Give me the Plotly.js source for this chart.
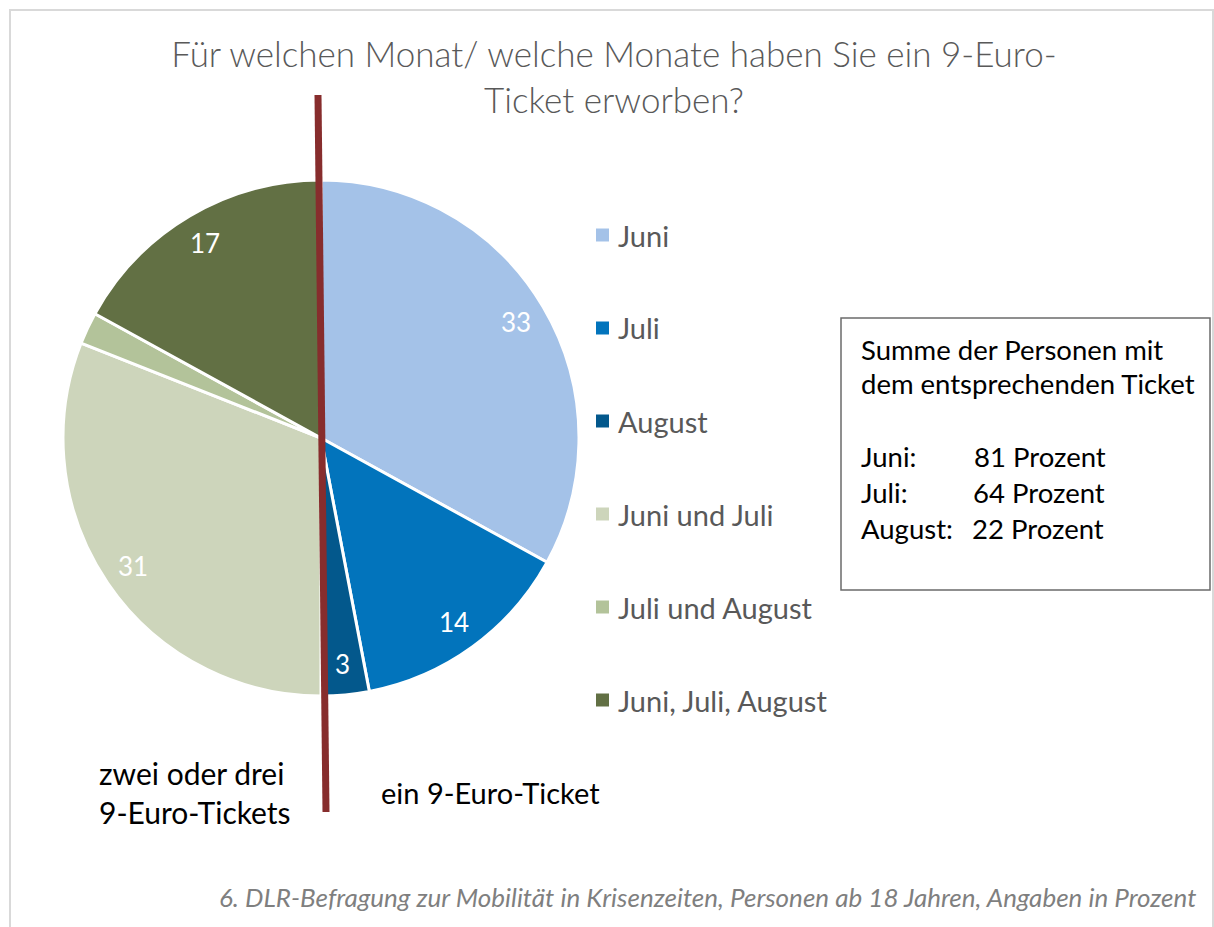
<!DOCTYPE html>
<html>
<head>
<meta charset="utf-8">
<script src="https://cdn.plot.ly/plotly-3.0.1.min.js"></script>
<style>html,body{margin:0;padding:0;background:#fff;}#chart{width:1214px;height:927px;}</style>
</head>
<body>
<div id="chart"></div>
<script>
// ---- data ----
const categories = ["Juni", "Juli", "August", "Juni und Juli", "Juli und August", "Juni, Juli, August"];
const values = [33, 14, 3, 31, 2, 17];
const showValue = [true, true, true, true, false, true];
const colors = ["#A4C2E8", "#0274BC", "#03588C", "#CDD5BB", "#B3C39A", "#627044"];
const sumMonths = ["Juni:", "Juli:", "August:"];
const sumValues = [81, 64, 22];
const titleText = "Für welchen Monat/ welche Monate haben Sie ein 9-Euro-<br>Ticket erworben?";
const boxTitle = ["Summe der Personen mit", "dem entsprechenden Ticket"];
const leftNote = "zwei oder drei<br>9-Euro-Tickets";
const rightNote = "ein 9-Euro-Ticket";
const sourceText = "6. DLR-Befragung zur Mobilität in Krisenzeiten, Personen ab 18 Jahren, Angaben in Prozent";

const W = 1214, H = 927;
const px = x => x / W;
const py = y => 1 - y / H;
const FONT = "Lato, 'Open Sans', sans-serif";

// pie geometry (pixels)
const CX = 321, CY = 438, R = 258;

const trace = {
  type: "pie",
  labels: categories,
  values: values,
  sort: false,
  direction: "clockwise",
  rotation: 0,
  marker: { colors: colors, line: { color: "#ffffff", width: 3 } },
  textinfo: "none",
  hoverinfo: "label+value",
  showlegend: false,
  domain: { x: [px(CX - R), px(CX + R)], y: [py(CY + R), py(CY - R)] }
};

const shapes = [];
const annotations = [];

// outer light border
shapes.push({ type: "rect", xref: "paper", yref: "paper", x0: px(10), x1: px(1213), y0: py(10), y1: py(930),
  line: { color: "#D9D9D9", width: 2 }, fillcolor: "rgba(0,0,0,0)", layer: "below" });

// value labels, placed like Excel's (outer part of each slice)
const total = values.reduce((a, b) => a + b, 0);
let cum = 0;
values.forEach((v, i) => {
  const mid = (cum + v / 2) / total * 2 * Math.PI;
  cum += v;
  if (!showValue[i]) return;
  const k = 0.88;
  const x = CX + R * k * Math.sin(mid);
  const y = CY - R * k * Math.cos(mid);
  annotations.push({ xref: "paper", yref: "paper", x: px(x), y: py(y), xanchor: "center", yanchor: "middle",
    text: String(v), showarrow: false, font: { family: FONT, size: 26, color: "#ffffff" } });
});

// legend (manual, spaced like the original)
const legY0 = 235, legStep = 93;
categories.forEach((c, i) => {
  const y = legY0 + i * legStep;
  shapes.push({ type: "rect", xref: "paper", yref: "paper",
    x0: px(596), x1: px(609), y0: py(y + 6.5), y1: py(y - 6.5),
    fillcolor: colors[i], line: { width: 0 } });
  annotations.push({ xref: "paper", yref: "paper", x: px(616), y: py(y), xanchor: "left", yanchor: "middle",
    text: c, showarrow: false, font: { family: FONT, size: 29, color: "#595959" } });
});

// summary box
shapes.push({ type: "rect", xref: "paper", yref: "paper", x0: px(841), x1: px(1210), y0: py(590), y1: py(318),
  line: { color: "#6b6b6b", width: 1.5 }, fillcolor: "#ffffff" });
boxTitle.forEach((t, i) => {
  annotations.push({ xref: "paper", yref: "paper", x: px(859), y: py(349 + i * 35), xanchor: "left", yanchor: "middle",
    text: t, showarrow: false, font: { family: FONT, size: 27.5, color: "#000000" } });
});
sumMonths.forEach((m, i) => {
  const y = 457 + i * 35.5;
  annotations.push({ xref: "paper", yref: "paper", x: px(859), y: py(y), xanchor: "left", yanchor: "middle",
    text: m, showarrow: false, font: { family: FONT, size: 27.5, color: "#000000" } });
  annotations.push({ xref: "paper", yref: "paper", x: px(972 - i), y: py(y), xanchor: "left", yanchor: "middle",
    text: sumValues[i] + " Prozent", showarrow: false, font: { family: FONT, size: 27.5, color: "#000000" } });
});

// dividing line
shapes.push({ type: "line", xref: "paper", yref: "paper", x0: px(318), y0: py(95), x1: px(326), y1: py(812),
  line: { color: "#872D2D", width: 7 } });

// side notes
annotations.push({ xref: "paper", yref: "paper", x: px(97), y: py(792), xanchor: "left", yanchor: "middle", align: "left",
  text: leftNote, showarrow: false, font: { family: FONT, size: 30, color: "#000000" } });
annotations.push({ xref: "paper", yref: "paper", x: px(379), y: py(792), xanchor: "left", yanchor: "middle",
  text: rightNote, showarrow: false, font: { family: FONT, size: 29, color: "#000000" } });

// source
annotations.push({ xref: "paper", yref: "paper", x: px(1198), y: py(897), xanchor: "right", yanchor: "middle",
  text: "<i>" + sourceText + "</i>", showarrow: false, font: { family: FONT, size: 26, color: "#7F7F7F" } });

const layout = {
  width: W, height: H,
  margin: { l: 0, r: 0, t: 0, b: 0 },
  paper_bgcolor: "#ffffff",
  title: { text: titleText, x: px(614), xanchor: "center", y: py(67), yanchor: "middle",
    font: { family: FONT, size: 35, color: "#595959", weight: 300 } },
  shapes: shapes,
  annotations: annotations,
  showlegend: false
};

Plotly.newPlot("chart", [trace], layout, { displayModeBar: false, staticPlot: true });
</script>
</body>
</html>
